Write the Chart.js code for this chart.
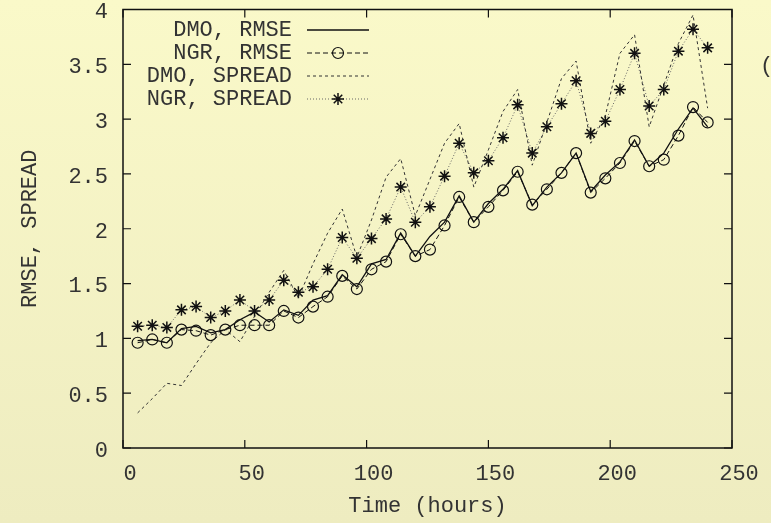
<!DOCTYPE html>
<html>
<head>
<meta charset="utf-8">
<script src="https://cdn.jsdelivr.net/npm/chart.js@4.4.0/dist/chart.umd.min.js"></script>
<style>
html, body { margin: 0; padding: 0; }
body { width: 771px; height: 523px; overflow: hidden; background: linear-gradient(#faf9c9, #eeecc0); }
#wrap { position: relative; width: 771px; height: 523px; }
</style>
</head>
<body>
<div id="wrap"><canvas id="chart"></canvas></div>
<script>
// forecast lead time (hours)
const hours = [6, 12, 18, 24, 30, 36, 42, 48, 54, 60, 66, 72, 78, 84, 90, 96, 102, 108, 114, 120,
  126, 132, 138, 144, 150, 156, 162, 168, 174, 180, 186, 192, 198, 204, 210, 216, 222, 228, 234, 240];

const dmoRmse = [0.98, 0.99, 0.96, 1.09, 1.11, 1.05, 1.08, 1.17, 1.24, 1.15, 1.26, 1.21, 1.35, 1.39, 1.58, 1.47, 1.68, 1.72, 1.96, 1.75,
  1.93, 2.06, 2.30, 2.06, 2.23, 2.36, 2.53, 2.21, 2.38, 2.51, 2.69, 2.34, 2.49, 2.61, 2.81, 2.57, 2.69, 2.91, 3.10, 2.93];
const ngrRmse = [0.96, 0.99, 0.96, 1.08, 1.07, 1.03, 1.08, 1.12, 1.12, 1.12, 1.25, 1.19, 1.29, 1.38, 1.57, 1.45, 1.63, 1.70, 1.95, 1.75,
  1.81, 2.03, 2.29, 2.06, 2.20, 2.35, 2.52, 2.22, 2.36, 2.51, 2.69, 2.33, 2.46, 2.60, 2.80, 2.57, 2.63, 2.85, 3.11, 2.97];
const dmoSpread = [0.32, 0.45, 0.59, 0.57, 0.77, 0.96, 1.08, 0.97, 1.20, 1.42, 1.62, 1.37, 1.68, 1.96, 2.18, 1.74, 2.08, 2.47, 2.64, 2.12,
  2.45, 2.78, 2.96, 2.38, 2.72, 3.07, 3.27, 2.58, 2.97, 3.37, 3.53, 2.78, 3.03, 3.60, 3.77, 2.93, 3.31, 3.69, 3.95, 3.10];
const ngrSpread = [1.11, 1.12, 1.10, 1.26, 1.29, 1.19, 1.25, 1.35, 1.25, 1.35, 1.53, 1.42, 1.47, 1.63, 1.92, 1.73, 1.91, 2.09, 2.38, 2.06,
  2.20, 2.48, 2.78, 2.51, 2.62, 2.83, 3.13, 2.69, 2.93, 3.14, 3.35, 2.87, 2.98, 3.27, 3.60, 3.12, 3.27, 3.62, 3.82, 3.65];

const seriesNames = ['DMO, RMSE', 'NGR, RMSE', 'DMO, SPREAD', 'NGR, SPREAD'];
const yTickLabels = ['0', '0.5', '1', '1.5', '2', '2.5', '3', '3.5', '4'];
const xTickLabels = ['0', '50', '100', '150', '200', '250'];

const FONT = "'Liberation Mono', 'Courier New', monospace";
Chart.defaults.font.family = FONT;
Chart.defaults.font.size = 22;
Chart.defaults.color = '#333';

function pts(arr) {
  return arr.map((v, i) => ({ x: hours[i], y: v }));
}

// gnuplot style frame: border + inward ticks on all four sides
const framePlugin = {
  id: 'frame',
  afterDatasetsDraw(chart) {
    const { ctx, chartArea: a, scales } = chart;
    ctx.save();
    ctx.strokeStyle = '#111';
    ctx.lineWidth = 1.5;
    ctx.strokeRect(a.left, a.top, a.right - a.left, a.bottom - a.top);
    ctx.lineWidth = 1.2;
    const tl = 8;
    ctx.beginPath();
    scales.x.ticks.forEach(t => {
      const px = scales.x.getPixelForValue(t.value);
      ctx.moveTo(px, a.bottom); ctx.lineTo(px, a.bottom - tl);
      ctx.moveTo(px, a.top); ctx.lineTo(px, a.top + tl);
    });
    scales.y.ticks.forEach(t => {
      const py = scales.y.getPixelForValue(t.value);
      ctx.moveTo(a.left, py); ctx.lineTo(a.left + tl, py);
      ctx.moveTo(a.right, py); ctx.lineTo(a.right - tl, py);
    });
    ctx.stroke();
    ctx.restore();
  }
};

// key in the top-left corner: label on the left, line sample on the right
const keyPlugin = {
  id: 'key',
  afterDraw(chart) {
    const ctx = chart.ctx;
    ctx.save();
    ctx.font = '22px ' + FONT;
    ctx.textAlign = 'right';
    ctx.textBaseline = 'middle';
    chart.data.datasets.forEach((ds, i) => {
      const y = 30 + i * 23;
      ctx.fillStyle = '#333';
      ctx.fillText(ds.label, 292, y);
      ctx.strokeStyle = ds.borderColor;
      ctx.lineWidth = ds.borderWidth;
      ctx.setLineDash(ds.borderDash || []);
      ctx.beginPath();
      ctx.moveTo(307, y); ctx.lineTo(369, y);
      ctx.stroke();
      ctx.setLineDash([]);
      if (ds.pointRadius > 0) {
        ctx.strokeStyle = ds.pointBorderColor;
        ctx.fillStyle = 'rgba(0,0,0,0)';
        ctx.lineWidth = ds.pointBorderWidth;
        Chart.helpers.drawPoint(ctx, { pointStyle: ds.pointStyle, radius: ds.pointRadius, rotation: 0, borderWidth: ds.pointBorderWidth }, 338, y);
      }
    });
    // panel label cut off at the right edge
    ctx.textAlign = 'left';
    ctx.fillStyle = '#333';
    ctx.fillText('(a)', 760, 66);
    ctx.restore();
  }
};

new Chart(document.getElementById('chart'), {
  type: 'line',
  data: {
    datasets: [
      {
        label: seriesNames[0],
        data: pts(dmoRmse),
        borderColor: '#111',
        borderWidth: 1.3,
        pointRadius: 0
      },
      {
        label: seriesNames[1],
        data: pts(ngrRmse),
        borderColor: '#111',
        borderWidth: 1,
        borderDash: [5, 3],
        pointStyle: 'circle',
        pointRadius: 5.5,
        pointBorderWidth: 1.2,
        pointBorderColor: '#111',
        pointBackgroundColor: 'rgba(0,0,0,0)'
      },
      {
        label: seriesNames[2],
        data: pts(dmoSpread),
        borderColor: '#333',
        borderWidth: 1,
        borderDash: [3, 3],
        pointRadius: 0
      },
      {
        label: seriesNames[3],
        data: pts(ngrSpread),
        borderColor: '#666',
        borderWidth: 1,
        borderDash: [1, 2],
        pointStyle: 'star',
        pointRadius: 6,
        pointBorderWidth: 1.5,
        pointBorderColor: '#111',
        pointBackgroundColor: 'rgba(0,0,0,0)'
      }
    ]
  },
  options: {
    responsive: true,
    maintainAspectRatio: false,
    animation: false,
    layout: { padding: { left: 0, right: 39, top: 9.5, bottom: 0 } },
    plugins: {
      legend: { display: false },
      tooltip: { enabled: false }
    },
    scales: {
      x: {
        type: 'linear',
        min: 0,
        max: 250,
        ticks: {
          stepSize: 50,
          padding: 13,
          labelOffset: 7,
          color: '#333',
          callback: (v, i) => xTickLabels[i]
        },
        grid: { drawOnChartArea: false, drawTicks: false },
        border: { display: false },
        title: { display: true, text: 'Time (hours)', color: '#333', padding: { top: 0, bottom: 4 } },
        afterFit(scale) {
          scale.height = 75;
          scale.paddingLeft = 0;
          scale.paddingRight = 0;
        }
      },
      y: {
        min: 0,
        max: 4,
        ticks: {
          stepSize: 0.5,
          padding: 15,
          labelOffset: 3,
          color: '#333',
          callback: (v, i) => yTickLabels[i]
        },
        grid: { drawOnChartArea: false, drawTicks: false },
        border: { display: false },
        title: { display: true, text: 'RMSE, SPREAD', color: '#333', padding: { top: 17, bottom: 0 } },
        afterFit(scale) {
          scale.width = 123;
          scale.paddingTop = 0;
          scale.paddingBottom = 0;
        }
      }
    }
  },
  plugins: [framePlugin, keyPlugin]
});
</script>
</body>
</html>
